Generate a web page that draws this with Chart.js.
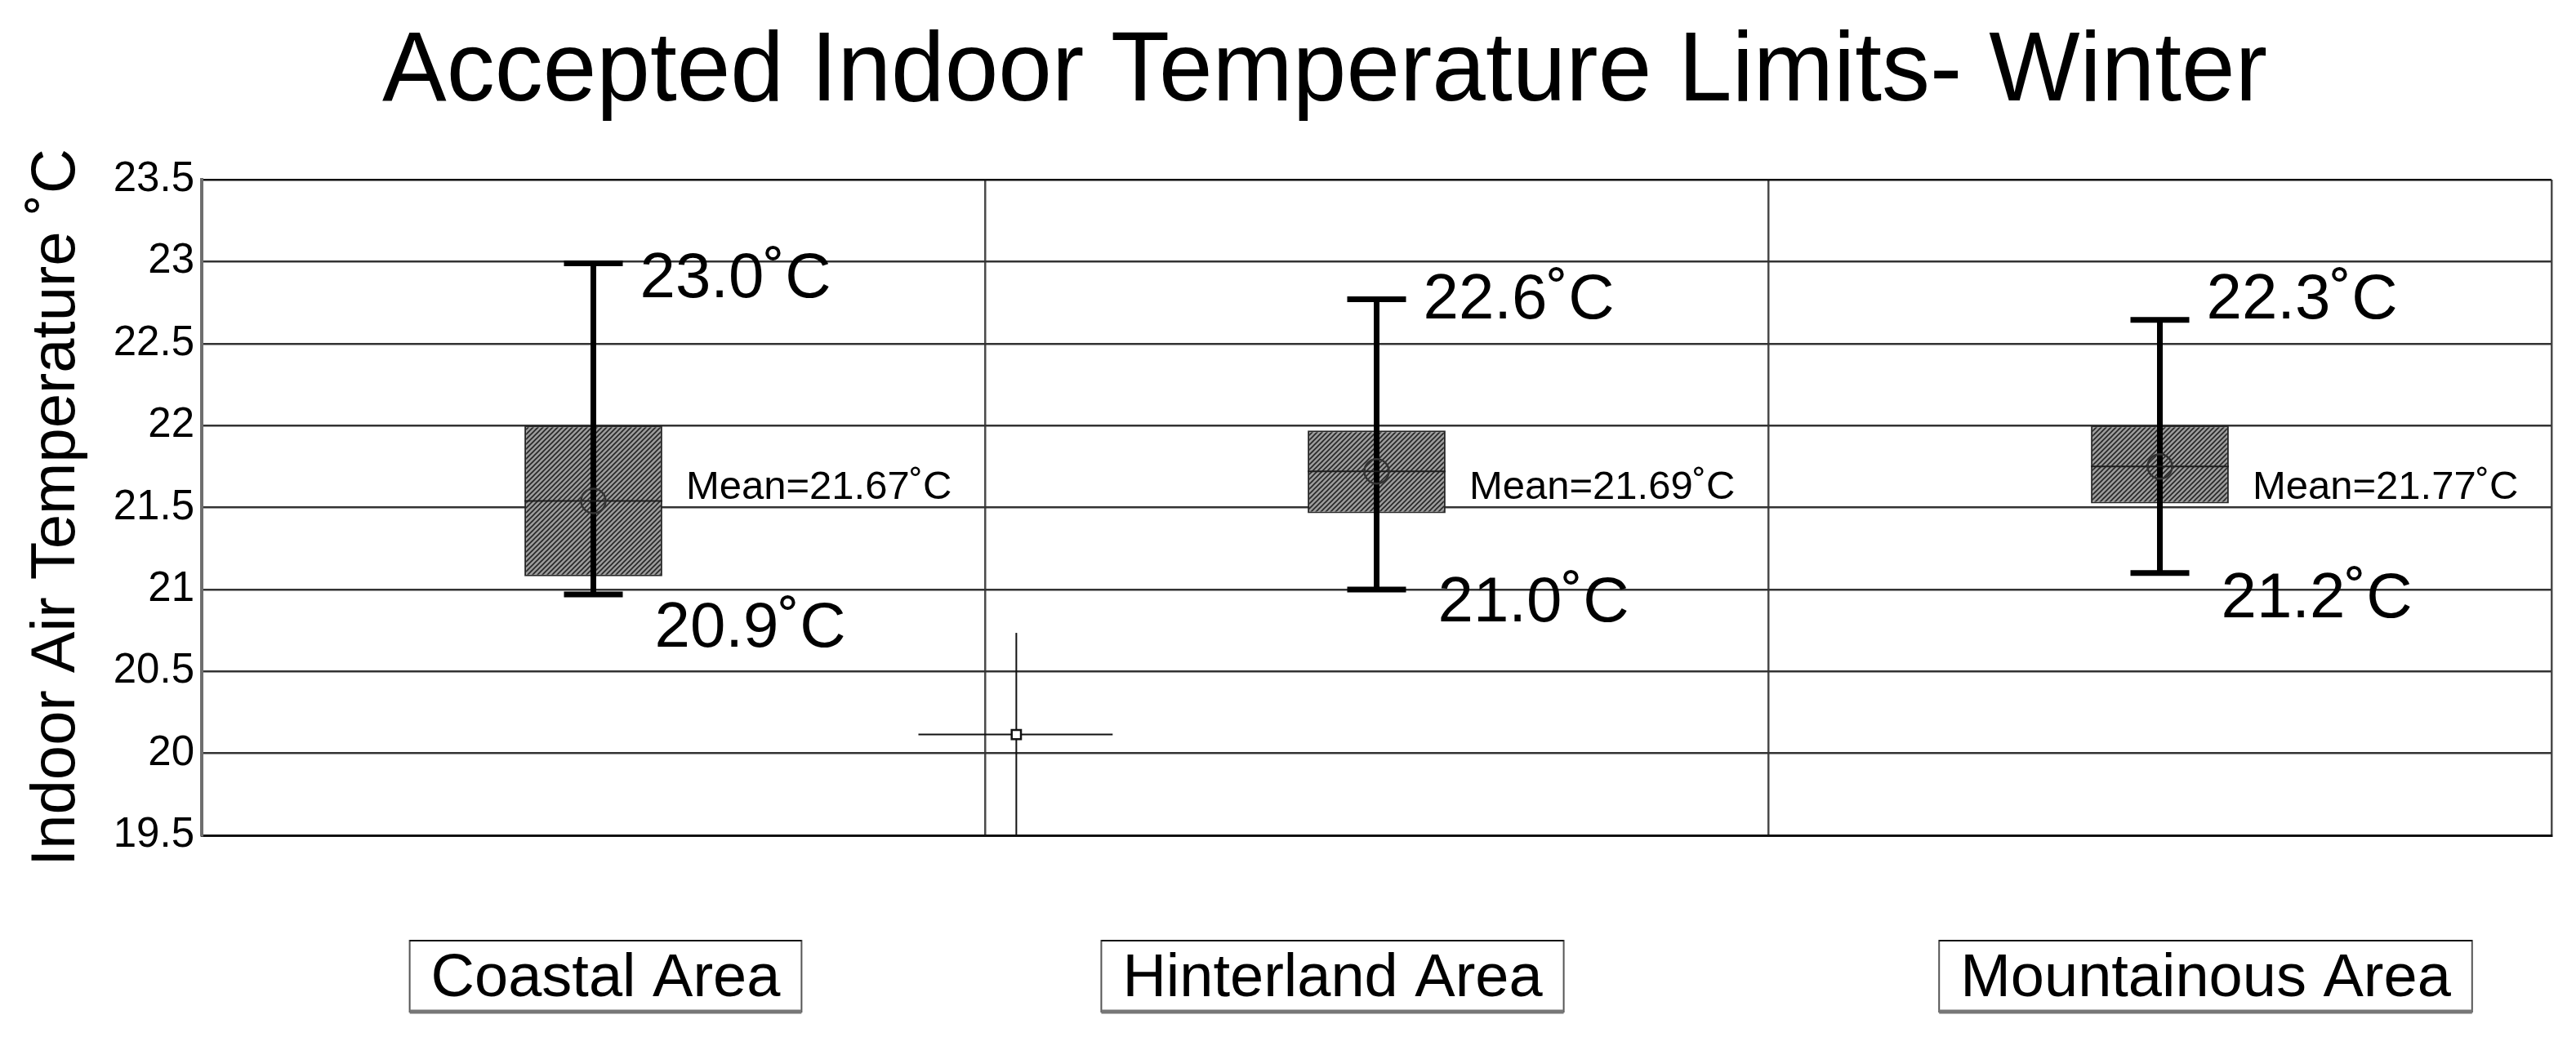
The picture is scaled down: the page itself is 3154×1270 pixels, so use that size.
<!DOCTYPE html>
<html>
<head>
<meta charset="utf-8">
<title>Accepted Indoor Temperature Limits- Winter</title>
<script src="https://cdn.jsdelivr.net/npm/chart.js@4.4.1/dist/chart.umd.min.js"></script>
<style>
  html, body { margin: 0; padding: 0; background: #fff; }
</style>
</head>
<body>
<canvas id="tempChart" width="3154" height="1270"></canvas>
<script>
// data
const categories = ["Coastal Area", "Hinterland Area", "Mountainous Area"];
const upperWhisker = [22.99, 22.77, 22.645];
const upperQuartile = [22.0, 21.97, 22.0];
const medians = [21.54, 21.72, 21.75];
const lowerQuartile = [21.08, 21.465, 21.525];
const lowerWhisker = [20.97, 21.0, 21.1];
const meanValues = [21.67, 21.69, 21.77];
const maxLabels = ["23.0", "22.6", "22.3"];
const minLabels = ["20.9", "21.0", "21.2"];

// y axis ticks
const yMin = 19.5;
const yMax = 23.5;
const yStep = 0.5;

// the stray cross marker between coastal and hinterland (category units)
const markerX = 0.54;
const markerY = 20.115;
const markerSpanX = [0.415, 0.663];
const markerSpanY = [19.5, 20.735];

const FONT = "'Liberation Sans', Arial, Helvetica, sans-serif";
const DEG = "\u02DAC";

// layout tweaks for the text around each box
const CAP_WIDTH = 72;
const maxLabelDy = [42, 23, -2];
const minLabelDy = [64, 39, 54];
const labelBoxShift = [15, -54, 56];

function makeHatch(ctx) {
  const c = document.createElement("canvas");
  c.width = 6; c.height = 6;
  const g = c.getContext("2d");
  g.fillStyle = "#9c9c9c";
  g.fillRect(0, 0, 6, 6);
  g.strokeStyle = "#262626";
  g.lineWidth = 1.6;
  g.beginPath();
  g.moveTo(-1, 7); g.lineTo(7, -1);
  g.moveTo(-4, 4); g.lineTo(4, -4);
  g.moveTo(2, 10); g.lineTo(10, 2);
  g.stroke();
  return ctx.createPattern(c, "repeat");
}

// whiskers, median, circle and the value labels
const boxPlugin = {
  id: "boxWhiskers",
  afterDatasetsDraw(chart) {
    const { ctx, scales: { x, y } } = chart;
    const meta = chart.getDatasetMeta(0);
    ctx.save();
    categories.forEach((cat, i) => {
      const bar = meta.data[i];
      const cx = x.getPixelForValue(i);
      const half = bar.width / 2;
      const yHi = y.getPixelForValue(upperWhisker[i]);
      const yLo = y.getPixelForValue(lowerWhisker[i]);
      const yMed = y.getPixelForValue(medians[i]);

      ctx.strokeStyle = "#000";
      ctx.lineWidth = 7;
      ctx.lineCap = "butt";
      ctx.beginPath();
      ctx.moveTo(cx, yHi);
      ctx.lineTo(cx, yLo);
      ctx.moveTo(cx - CAP_WIDTH / 2, yHi);
      ctx.lineTo(cx + CAP_WIDTH / 2, yHi);
      ctx.moveTo(cx - CAP_WIDTH / 2, yLo);
      ctx.lineTo(cx + CAP_WIDTH / 2, yLo);
      ctx.stroke();

      ctx.lineWidth = 2;
      ctx.strokeStyle = "#1e1e1e";
      ctx.beginPath();
      ctx.moveTo(bar.x - half, yMed);
      ctx.lineTo(bar.x + half, yMed);
      ctx.stroke();

      ctx.lineWidth = 2.5;
      ctx.strokeStyle = "#333";
      ctx.beginPath();
      ctx.arc(cx, yMed, 15, 0, Math.PI * 2);
      ctx.stroke();

      ctx.fillStyle = "#000";
      ctx.textAlign = "left";
      ctx.textBaseline = "alphabetic";
      ctx.font = "78px " + FONT;
      ctx.fillText(maxLabels[i] + DEG, cx + CAP_WIDTH / 2 + 21, yHi + maxLabelDy[i]);
      ctx.fillText(minLabels[i] + DEG, cx + CAP_WIDTH / 2 + 39, yLo + minLabelDy[i]);

      ctx.font = "49px " + FONT;
      ctx.fillText("Mean=" + meanValues[i].toFixed(2) + DEG, bar.x + half + 29, y.getPixelForValue(21.5) - 11);
    });
    ctx.restore();
  }
};

// title and the boxed category names
const textPlugin = {
  id: "chartTexts",
  afterDraw(chart) {
    const { ctx, scales: { x } } = chart;
    ctx.save();
    ctx.fillStyle = "#000";
    ctx.textAlign = "center";
    ctx.textBaseline = "alphabetic";

    // the original title is a touch narrower than plain Arial
    ctx.save();
    ctx.translate(1622, 123);
    ctx.scale(0.975, 1);
    ctx.font = "121px " + FONT;
    ctx.fillText("Accepted Indoor Temperature Limits- Winter", 0, 0);
    ctx.restore();

    ctx.font = "74px " + FONT;
    categories.forEach((cat, i) => {
      const cx = x.getPixelForValue(i) + labelBoxShift[i];
      const w = ctx.measureText(cat).width + 52;
      const left = cx - w / 2;
      const top = 1152, h = 87;
      ctx.fillStyle = "#fff";
      ctx.fillRect(left, top, w, h);
      ctx.strokeStyle = "#555";
      ctx.lineWidth = 2;
      ctx.strokeRect(left, top, w, h);
      ctx.strokeStyle = "#111";
      ctx.beginPath(); ctx.moveTo(left, top); ctx.lineTo(left + w, top); ctx.stroke();
      ctx.strokeStyle = "#777";
      ctx.lineWidth = 5;
      ctx.beginPath(); ctx.moveTo(left, top + h); ctx.lineTo(left + w, top + h); ctx.stroke();
      ctx.fillStyle = "#000";
      ctx.fillText(cat, cx, 1220);
    });
    ctx.restore();
  }
};

const canvas = document.getElementById("tempChart");
const ctx = canvas.getContext("2d");
const hatch = makeHatch(ctx);

new Chart(ctx, {
  type: "bar",
  data: {
    labels: categories,
    datasets: [
      {
        label: "Interquartile range",
        data: categories.map((c, i) => [lowerQuartile[i], upperQuartile[i]]),
        backgroundColor: hatch,
        borderColor: "#262626",
        borderWidth: 2,
        borderSkipped: false,
        grouped: false,
        barPercentage: 0.176,
        categoryPercentage: 1,
        order: 2
      },
      {
        type: "line",
        xAxisID: "xm",
        data: [{ x: markerSpanX[0], y: markerY }, { x: markerSpanX[1], y: markerY }],
        borderColor: "#111",
        borderWidth: 2,
        pointRadius: 0,
        order: 1
      },
      {
        type: "line",
        xAxisID: "xm",
        data: [{ x: markerX, y: markerSpanY[0] }, { x: markerX, y: markerSpanY[1] }],
        borderColor: "#111",
        borderWidth: 2,
        pointRadius: 0,
        order: 1
      },
      {
        type: "scatter",
        xAxisID: "xm",
        data: [{ x: markerX, y: markerY }],
        pointStyle: "rect",
        pointRadius: 8,
        backgroundColor: "#fff",
        borderColor: "#111",
        borderWidth: 2.5,
        order: 0
      }
    ]
  },
  options: {
    responsive: false,
    animation: false,
    devicePixelRatio: 1,
    layout: { padding: { top: 220, right: 30, bottom: 247, left: 0 } },
    plugins: {
      legend: { display: false },
      tooltip: { enabled: false },
      title: { display: false }
    },
    scales: {
      x: {
        type: "category",
        offset: true,
        grid: { offset: true, color: "#4a4a4a", lineWidth: 2.5, drawTicks: false },
        border: { display: true, color: "#111", width: 3 },
        ticks: { display: false }
      },
      xm: {
        type: "linear",
        display: false,
        offset: false,
        grid: { offset: false },
        min: -0.5,
        max: 2.5
      },
      y: {
        min: yMin,
        max: yMax,
        ticks: {
          stepSize: yStep,
          color: "#000",
          padding: 9,
          font: { size: 51, family: FONT },
          callback: (v) => String(v)
        },
        grid: {
          color: (c) => (c.tick && c.tick.value === yMax ? "#111" : "#333"),
          lineWidth: 2.5,
          drawTicks: false
        },
        border: { display: true, color: "#6e6e6e", width: 4 },
        title: {
          display: true,
          text: "Indoor Air Temperature " + DEG,
          color: "#000",
          font: { size: 76, family: FONT },
          padding: { top: 24, bottom: 0 }
        },
        afterFit(scale) { scale.width = 247; }
      }
    }
  },
  plugins: [boxPlugin, textPlugin]
});
</script>
</body>
</html>
